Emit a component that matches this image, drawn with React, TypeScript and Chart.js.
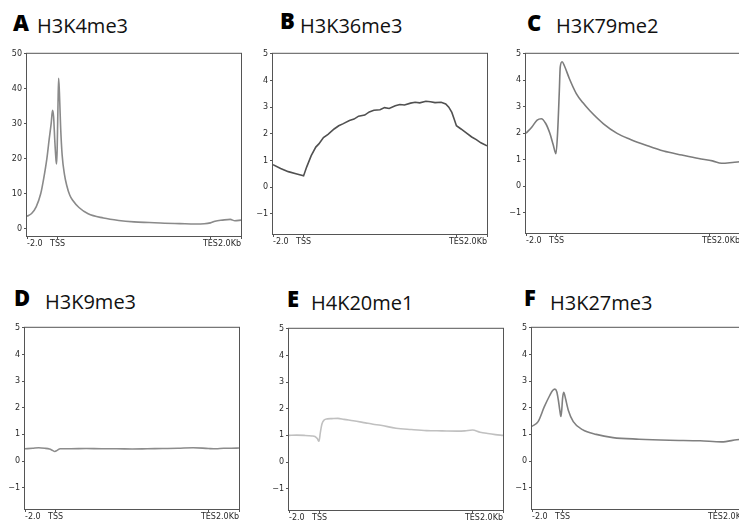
import React, { useEffect, useRef } from "react";
import { Chart, registerables } from "chart.js";
Chart.register(...registerables);

// x positions: 0 = -2.0 kb, 2 = TSS, 12 = TES, 14 = +2.0 kb
const xTickValues = [0, 2, 12, 14];
const xTickLabels = ["-2.0", "TSS", "TES", "2.0Kb"];
const yTicksA = [0, 10, 20, 30, 40, 50];
const yTicksOther = [-1, 0, 1, 2, 3, 4, 5];

const h3k4me3X = [0, 0.3, 0.6, 0.9, 1.1, 1.3, 1.45, 1.58, 1.67, 1.74, 1.82, 1.9, 1.94, 1.98, 2.03, 2.07, 2.12, 2.2, 2.3, 2.45, 2.6, 2.8, 3.0, 3.4, 4.0, 5.0, 6.0, 7.0, 8.0, 9.0, 10.0, 11.0, 11.6, 12.0, 12.3, 12.8, 13.3, 13.6, 14.0];
const h3k4me3Y = [3.5, 4.3, 6.2, 10.0, 14.5, 20.0, 25.5, 30.0, 33.8, 32.0, 25.0, 19.5, 18.5, 24.0, 36.0, 43.0, 39.0, 29.0, 21.0, 15.5, 12.3, 9.5, 8.0, 6.0, 4.2, 3.0, 2.3, 1.9, 1.7, 1.5, 1.4, 1.3, 1.35, 1.6, 2.1, 2.4, 2.6, 2.2, 2.4];

const h3k36me3X = [0, 0.5, 1.0, 1.5, 2.0, 2.2, 2.5, 2.8, 3.0, 3.3, 3.6, 4.0, 4.3, 4.6, 5.0, 5.3, 5.6, 6.0, 6.3, 6.6, 7.0, 7.3, 7.6, 8.0, 8.3, 8.6, 9.0, 9.3, 9.6, 10.0, 10.3, 10.6, 11.0, 11.3, 11.5, 11.7, 11.85, 12.0, 12.3, 12.6, 13.0, 13.3, 13.6, 14.0];
const h3k36me3Y = [0.84, 0.7, 0.58, 0.5, 0.42, 0.75, 1.18, 1.5, 1.62, 1.86, 1.98, 2.18, 2.3, 2.38, 2.5, 2.55, 2.66, 2.7, 2.82, 2.88, 2.9, 2.98, 2.95, 3.05, 3.1, 3.08, 3.15, 3.18, 3.16, 3.22, 3.2, 3.17, 3.18, 3.12, 3.0, 2.8, 2.55, 2.3, 2.18, 2.05, 1.88, 1.78, 1.66, 1.55];

const h3k79me2X = [0, 0.4, 0.73, 1.0, 1.29, 1.56, 1.78, 1.96, 2.07, 2.18, 2.24, 2.36, 2.51, 2.84, 3.29, 3.73, 4.18, 5.07, 5.96, 6.8, 7.9, 9.0, 10.2, 11.3, 12.2, 12.8, 13.5, 14.0];
const h3k79me2Y = [2.0, 2.25, 2.5, 2.55, 2.37, 2.0, 1.57, 1.23, 2.05, 3.6, 4.5, 4.7, 4.55, 4.06, 3.5, 3.15, 2.85, 2.36, 2.0, 1.78, 1.54, 1.33, 1.18, 1.05, 0.96, 0.87, 0.9, 0.93];

const h3k9me3X = [0, 0.5, 0.9, 1.3, 1.6, 1.8, 1.95, 2.1, 2.3, 3, 4, 5, 6, 7, 8, 9, 10, 11, 12, 12.5, 13, 13.5, 14];
const h3k9me3Y = [0.46, 0.48, 0.5, 0.48, 0.45, 0.4, 0.36, 0.4, 0.46, 0.46, 0.47, 0.46, 0.46, 0.45, 0.46, 0.47, 0.48, 0.5, 0.47, 0.46, 0.48, 0.48, 0.49];

const h4k20me1X = [0, 0.5, 1.0, 1.5, 1.7, 1.85, 1.96, 2.05, 2.15, 2.3, 2.5, 2.8, 3.2, 3.6, 4.2, 5.0, 5.5, 6.0, 7.0, 8.0, 9.0, 10.0, 11.0, 11.5, 12.0, 12.5, 13.0, 13.5, 14.0];
const h4k20me1Y = [1.0, 1.01, 1.0, 0.98, 0.96, 0.88, 0.78, 1.1, 1.42, 1.58, 1.62, 1.63, 1.64, 1.6, 1.55, 1.47, 1.42, 1.38, 1.27, 1.22, 1.18, 1.17, 1.16, 1.17, 1.2, 1.12, 1.07, 1.03, 1.0];

const h3k27me3X = [0, 0.4, 0.8, 1.15, 1.35, 1.5, 1.62, 1.72, 1.82, 1.89, 1.95, 2.0, 2.07, 2.13, 2.2, 2.38, 2.7, 3.3, 4.2, 5.3, 7.0, 9.0, 11.0, 12.4, 13.4, 14.0];
const h3k27me3Y = [1.3, 1.48, 2.03, 2.45, 2.65, 2.7, 2.6, 2.3, 1.9, 1.67, 1.95, 2.35, 2.58, 2.5, 2.33, 1.9, 1.48, 1.18, 1.0, 0.88, 0.82, 0.78, 0.76, 0.72, 0.8, 0.84];

const panelLetters = ["A", "B", "C", "D", "E", "F"];
const panelNames = ["H3K4me3", "H3K36me3", "H3K79me2", "H3K9me3", "H4K20me1", "H3K27me3"];

const Y_AXIS_W = 24;
const X_AXIS_H = 14;
const PAD = 1;

const framePlugin = {
  id: "frameAndLabels",
  afterDraw(chart: any) {
    const { ctx, chartArea } = chart;
    ctx.save();
    ctx.strokeStyle = "#555";
    ctx.lineWidth = 1;
    ctx.strokeRect(chartArea.left - 0.5, chartArea.top - 0.5, chartArea.right - chartArea.left + 1, chartArea.bottom - chartArea.top + 1);
    const xs = chart.scales.x;
    ctx.fillStyle = "#2a2a2a";
    ctx.font = '8px "DejaVu Sans"';
    ctx.textBaseline = "top";
    xTickValues.forEach((v, i) => {
      ctx.textAlign = i === 0 ? "left" : i === xTickValues.length - 1 ? "right" : "center";
      ctx.fillText(xTickLabels[i], xs.getPixelForValue(v), chartArea.bottom + 4);
    });
    ctx.restore();
  },
};

const fmt = (v: number) => (v < 0 ? "\u2212" + Math.abs(v) : String(v));

type PanelProps = {
  areaLeft: number; areaTop: number; areaRight: number; areaBottom: number;
  xs: number[]; ys: number[]; color: string; yMin: number; yMax: number; yTicks: number[]; jagged?: boolean;
};

function Panel(p: PanelProps) {
  const ref = useRef<HTMLCanvasElement>(null);
  const w = Y_AXIS_W + (p.areaRight - p.areaLeft) + PAD;
  const h = PAD + (p.areaBottom - p.areaTop) + X_AXIS_H;
  useEffect(() => {
    const chart = new Chart(ref.current as HTMLCanvasElement, {
      type: "line",
      data: {
        datasets: [{
          data: p.xs.map((x, i) => ({ x, y: p.ys[i] })),
          borderColor: p.color,
          borderWidth: 1.6,
          pointRadius: 0,
          fill: false,
          tension: 0,
          cubicInterpolationMode: p.jagged ? "default" : "monotone",
        }],
      },
      options: {
        animation: false,
        responsive: false,
        devicePixelRatio: 1,
        events: [],
        layout: { padding: { top: PAD, right: PAD, left: 0, bottom: 0 } },
        plugins: { legend: { display: false }, tooltip: { enabled: false }, title: { display: false } },
        scales: {
          x: {
            type: "linear", min: 0, max: 14,
            afterBuildTicks: (a: any) => { a.ticks = xTickValues.map((v) => ({ value: v })); },
            afterFit: (a: any) => { a.height = X_AXIS_H; },
            ticks: { display: false },
            grid: { display: true, drawOnChartArea: false, drawTicks: true, tickLength: 3, color: "#555" },
            border: { display: false },
          },
          y: {
            type: "linear", min: p.yMin, max: p.yMax,
            afterBuildTicks: (a: any) => { a.ticks = p.yTicks.map((v) => ({ value: v })); },
            afterFit: (a: any) => { a.width = Y_AXIS_W; },
            ticks: { font: { size: 8, family: "DejaVu Sans" }, color: "#2a2a2a", padding: 2, callback: (v: any) => fmt(Number(v)) },
            grid: { display: true, drawOnChartArea: false, drawTicks: true, tickLength: 3, color: "#555" },
            border: { display: false },
          },
        },
      } as any,
      plugins: [framePlugin],
    });
    return () => chart.destroy();
  }, []);
  return (
    <canvas
      ref={ref}
      width={w}
      height={h}
      style={{ position: "absolute", left: p.areaLeft - Y_AXIS_W, top: p.areaTop - PAD, width: w, height: h }}
    />
  );
}

function Title({ idx, letterLeft, letterBase, nameLeft, nameBase }: { idx: number; letterLeft: number; letterBase: number; nameLeft: number; nameBase: number }) {
  const common: React.CSSProperties = { position: "absolute", fontFamily: '"Open Sans", sans-serif', fontSize: 20, lineHeight: "20px", whiteSpace: "nowrap", color: "#111" };
  return (
    <>
      <div style={{ ...common, left: letterLeft, top: letterBase - 19.5, fontSize: 22, lineHeight: "22px", fontWeight: 800, color: "#000" }}>{panelLetters[idx]}</div>
      <div style={{ ...common, left: nameLeft, top: nameBase - 17.8 }}>{panelNames[idx]}</div>
    </>
  );
}

export default function App() {
  return (
    <div style={{ position: "fixed", left: 0, top: 0, width: 739, height: 524, background: "#fff", overflow: "hidden" }}>
      <Title idx={0} letterLeft={13} letterBase={30} nameLeft={37} nameBase={33.3} />
      <Title idx={1} letterLeft={280} letterBase={28.3} nameLeft={300} nameBase={33.3} />
      <Title idx={2} letterLeft={527} letterBase={30} nameLeft={556} nameBase={33.3} />
      <Title idx={3} letterLeft={14} letterBase={305} nameLeft={45} nameBase={310} />
      <Title idx={4} letterLeft={287} letterBase={306} nameLeft={311} nameBase={310.7} />
      <Title idx={5} letterLeft={524} letterBase={305} nameLeft={550} nameBase={310.7} />

      <Panel areaLeft={27} areaTop={48} areaRight={241} areaBottom={236} xs={h3k4me3X} ys={h3k4me3Y} color="#8a8a8a" yMin={-2.15} yMax={50} yTicks={yTicksA} />
      <Panel areaLeft={273} areaTop={48} areaRight={487} areaBottom={234} xs={h3k36me3X} ys={h3k36me3Y} color="#505050" yMin={-1.76} yMax={5} yTicks={yTicksOther} jagged />
      <Panel areaLeft={526} areaTop={48} areaRight={740} areaBottom={233} xs={h3k79me2X} ys={h3k79me2Y} color="#7c7c7c" yMin={-1.76} yMax={5} yTicks={yTicksOther} />
      <Panel areaLeft={25} areaTop={322} areaRight={239} areaBottom={509} xs={h3k9me3X} ys={h3k9me3Y} color="#8c8c8c" yMin={-1.8} yMax={5} yTicks={yTicksOther} />
      <Panel areaLeft={289} areaTop={323} areaRight={503} areaBottom={510} xs={h4k20me1X} ys={h4k20me1Y} color="#c0c0c0" yMin={-1.8} yMax={5} yTicks={yTicksOther} />
      <Panel areaLeft={532} areaTop={322} areaRight={746} areaBottom={509} xs={h3k27me3X} ys={h3k27me3Y} color="#808080" yMin={-1.8} yMax={5} yTicks={yTicksOther} />
    </div>
  );
}
